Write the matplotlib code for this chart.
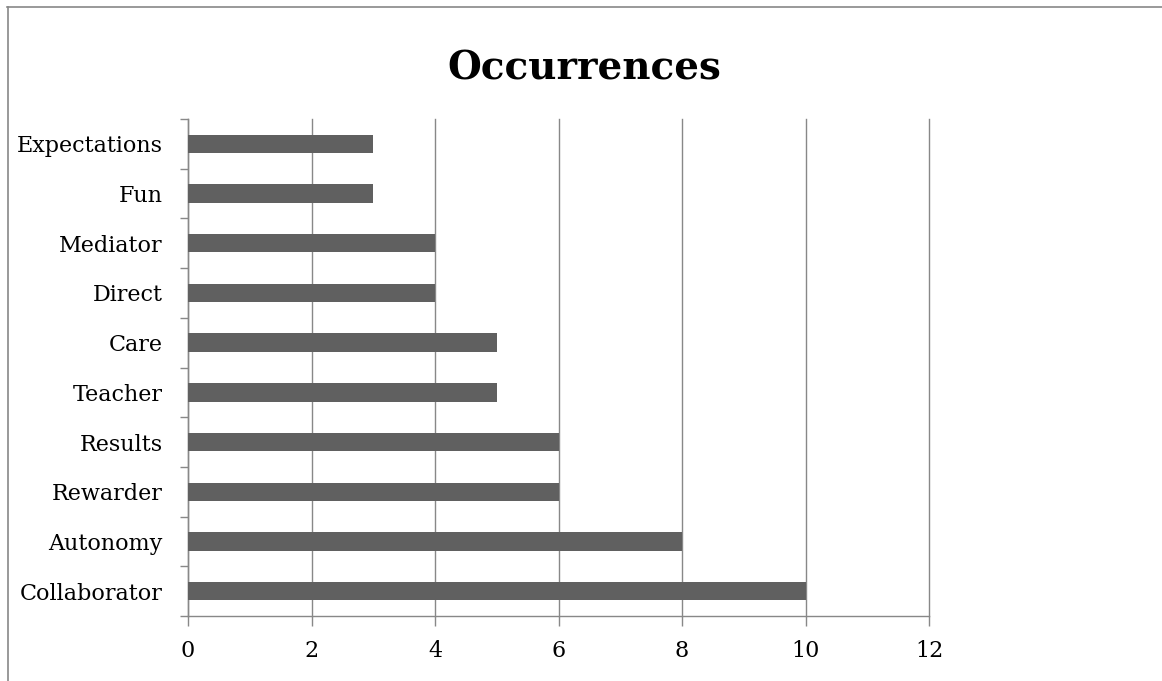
import matplotlib
matplotlib.use("Agg")
import matplotlib.pyplot as plt
from matplotlib.lines import Line2D

categories = ["Collaborator", "Autonomy", "Rewarder", "Results", "Teacher",
              "Care", "Direct", "Mediator", "Fun", "Expectations"]
values = [10, 8, 6, 6, 5, 5, 4, 4, 3, 3]
x_ticks = [0, 2, 4, 6, 8, 10, 12]

plt.rcParams["font.family"] = ["DejaVu Serif"]

W, H = 1162, 681
fig = plt.figure(figsize=(W / 100, H / 100), dpi=100)
ax = fig.add_axes([188 / W, 1 - 616 / H, (929 - 188) / W, (616 - 119) / H])

pos = list(range(len(categories)))
ax.barh(pos, values, height=0.37, color="#606060", zorder=3)

ax.set_xlim(0, 12)
ax.set_ylim(-0.5, len(categories) - 0.5)
ax.set_xticks(x_ticks)
ax.set_xticklabels([str(t) for t in x_ticks], fontsize=16)
ax.set_yticks(pos)
ax.set_yticklabels(categories, fontsize=16)
ax.tick_params(axis="y", length=0, pad=18)
ax.tick_params(axis="x", length=7, color="#888888", width=1, pad=10)

# category separators on the left axis
ax.set_yticks([p - 0.5 for p in pos] + [len(categories) - 0.5], minor=True)
ax.tick_params(axis="y", which="minor", length=6, color="#888888", width=1)

ax.grid(axis="x", color="#888888", linewidth=1, zorder=0)
for gl in ax.get_xgridlines():
    gl.set_clip_on(False)
for s in ["top", "right"]:
    ax.spines[s].set_visible(False)
for s in ["left", "bottom"]:
    ax.spines[s].set_color("#888888")
    ax.spines[s].set_linewidth(1)

fig.text(584 / W, 1 - 68 / H, "Occurrences", ha="center", va="center",
         fontsize=28, fontweight="bold")

# outer frame lines
fig.add_artist(Line2D([7 / W, 1], [1 - 6.5 / H, 1 - 6.5 / H], color="#888888", lw=1.2,
                      transform=fig.transFigure))
fig.add_artist(Line2D([7.5 / W, 7.5 / W], [0, 1 - 6.5 / H], color="#888888", lw=1.2,
                      transform=fig.transFigure))

fig.savefig("out.png", dpi=100)
